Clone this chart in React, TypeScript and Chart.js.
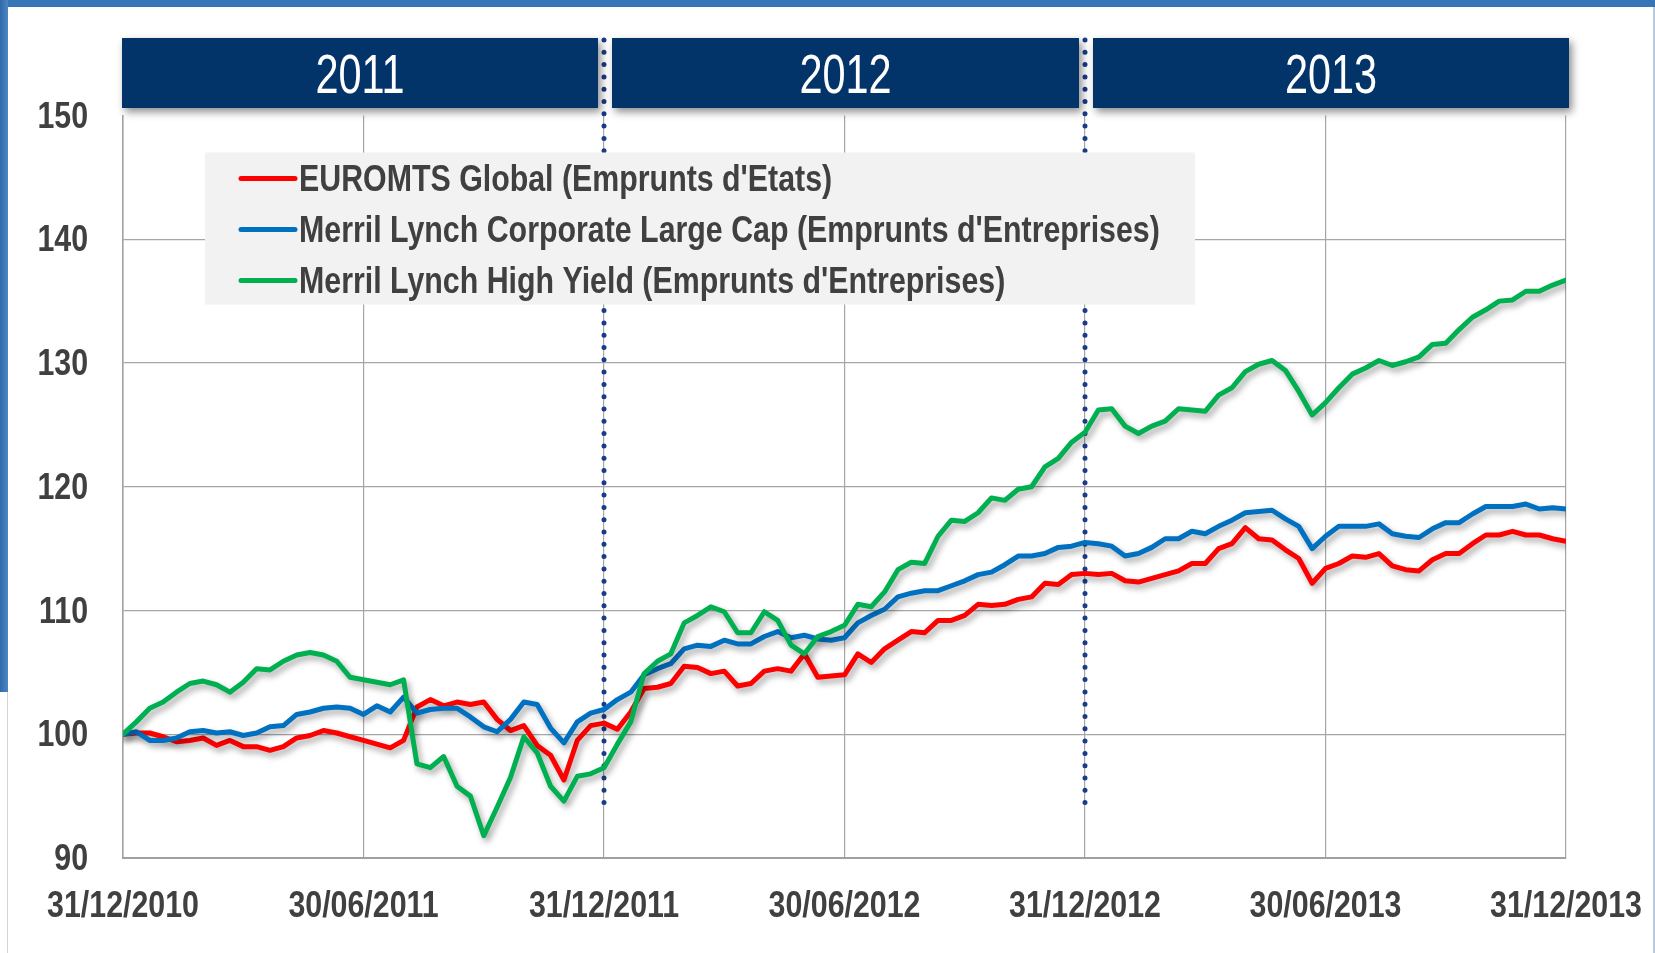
import React, { useEffect, useRef } from "react";
import { Chart, registerables } from "chart.js";

Chart.register(...registerables);

// ---------- DATA ----------
const tickLabels = ["31/12/2010", "30/06/2011", "31/12/2011", "30/06/2012", "31/12/2012", "30/06/2013", "31/12/2013"];
const yearLabels = ["2011", "2012", "2013"];
const seriesNames = [
  "EUROMTS Global (Emprunts d'Etats)",
  "Merril Lynch Corporate Large Cap (Emprunts d'Entreprises)",
  "Merril Lynch High Yield (Emprunts d'Entreprises)",
];
const seriesColors = ["#ff0000", "#0070c0", "#00b050"];
const stepsPerHalfYear = 18; // observations every ~10 days

const euromts = [
  100.0, 100.1, 100.1, 99.8, 99.4, 99.5, 99.7, 99.1, 99.5, 99.0, 99.0, 98.7, 99.0, 99.7, 99.9, 100.3, 100.1, 99.8,
  99.5, 99.2, 98.9, 99.5, 102.2, 102.8, 102.3, 102.6, 102.4, 102.6, 101.2, 100.3, 100.7, 99.1, 98.3, 96.3, 99.5, 100.7,
  100.9, 100.4, 101.8, 103.7, 103.8, 104.1, 105.5, 105.4, 104.9, 105.1, 103.9, 104.1, 105.1, 105.3, 105.1, 106.5, 104.6, 104.7,
  104.8, 106.5, 105.8, 106.9, 107.6, 108.3, 108.2, 109.2, 109.2, 109.6, 110.5, 110.4, 110.5, 110.9, 111.1, 112.2, 112.1, 112.9,
  113.0, 112.9, 113.0, 112.4, 112.3, 112.6, 112.9, 113.2, 113.8, 113.8, 115.0, 115.4, 116.7, 115.8, 115.7, 114.9, 114.2, 112.2,
  113.4, 113.8, 114.4, 114.3, 114.6, 113.6, 113.3, 113.2, 114.1, 114.6, 114.6, 115.4, 116.1, 116.1, 116.4, 116.1, 116.1, 115.8,
  115.6,
];
const corporate = [
  100.0, 100.2, 99.5, 99.5, 99.7, 100.2, 100.3, 100.1, 100.2, 99.9, 100.1, 100.6, 100.7, 101.6, 101.8, 102.1, 102.2, 102.1,
  101.6, 102.3, 101.8, 103.0, 101.7, 102.0, 102.1, 102.1, 101.4, 100.6, 100.2, 101.2, 102.6, 102.4, 100.5, 99.3, 101.0, 101.7,
  102.0, 102.8, 103.4, 104.8, 105.3, 105.7, 106.9, 107.2, 107.1, 107.6, 107.3, 107.3, 107.9, 108.3, 107.8, 108.0, 107.7, 107.6,
  107.8, 109.0, 109.6, 110.1, 111.1, 111.4, 111.6, 111.6, 112.0, 112.4, 112.9, 113.1, 113.7, 114.4, 114.4, 114.6, 115.1, 115.2,
  115.5, 115.4, 115.2, 114.4, 114.6, 115.1, 115.8, 115.8, 116.4, 116.2, 116.8, 117.3, 117.9, 118.0, 118.1, 117.4, 116.8, 115.0,
  116.0, 116.8, 116.8, 116.8, 117.0, 116.2, 116.0, 115.9, 116.6, 117.1, 117.1, 117.8, 118.4, 118.4, 118.4, 118.6, 118.2, 118.3,
  118.2,
];
const highYield = [
  100.0, 101.0, 102.1, 102.6, 103.4, 104.1, 104.3, 104.0, 103.4, 104.2, 105.3, 105.2, 105.9, 106.4, 106.6, 106.4, 105.9, 104.6,
  104.4, 104.2, 104.0, 104.4, 97.6, 97.3, 98.2, 95.8, 95.0, 91.8, 94.1, 96.5, 99.8, 98.5, 95.8, 94.6, 96.6, 96.8,
  97.3, 99.2, 101.0, 104.9, 105.9, 106.5, 109.0, 109.6, 110.3, 109.9, 108.2, 108.2, 109.9, 109.2, 107.2, 106.5, 107.9, 108.3,
  108.8, 110.5, 110.3, 111.5, 113.3, 113.9, 113.8, 116.0, 117.3, 117.2, 117.9, 119.1, 118.9, 119.8, 120.0, 121.6, 122.3, 123.6,
  124.4, 126.2, 126.3, 124.9, 124.3, 124.9, 125.3, 126.3, 126.2, 126.1, 127.4, 128.0, 129.3, 129.9, 130.2, 129.4, 127.7, 125.8,
  126.8, 128.0, 129.1, 129.6, 130.2, 129.8, 130.1, 130.5, 131.5, 131.6, 132.7, 133.7, 134.3, 135.0, 135.1, 135.8, 135.8, 136.3,
  136.7,
];

const FONT = "'Liberation Sans', Arial, sans-serif";
const TEXT = "#404040";
const NARROW = 0.82;

function narrowText(ctx: any, text: string, x: number, y: number, font: string, align: string, sx: number) {
  ctx.save();
  ctx.font = font;
  ctx.textAlign = align;
  ctx.textBaseline = "middle";
  ctx.translate(x, y);
  ctx.scale(sx, 1);
  ctx.fillText(text, 0, 0);
  ctx.restore();
}

const decorPlugin = {
  id: "decor",
  beforeDatasetsDraw(chart: any) {
    const { ctx, chartArea, scales } = chart;
    const xs = scales.x;
    ctx.save();

    // dotted year separators
    ctx.strokeStyle = "#1b3a8a";
    ctx.lineWidth = 5;
    ctx.lineCap = "round";
    ctx.setLineDash([0, 12.3]);
    for (let k = 1; k < yearLabels.length; k++) {
      const px = Math.round(xs.getPixelForValue(k * 2 * stepsPerHalfYear));
      ctx.beginPath();
      ctx.moveTo(px, 40);
      ctx.lineTo(px, 812);
      ctx.stroke();
    }
    ctx.setLineDash([]);

    // legend box
    const lx = chartArea.left + 82;
    const ly = chartArea.top + 37;
    ctx.fillStyle = "#f2f2f2";
    ctx.fillRect(lx, ly, 990, 152);
    chart.data.datasets.forEach((ds: any, i: number) => {
      const cy = ly + 26 + i * 51;
      ctx.strokeStyle = ds.borderColor;
      ctx.lineWidth = 5;
      ctx.lineCap = "round";
      ctx.beginPath();
      ctx.moveTo(lx + 36, cy);
      ctx.lineTo(lx + 90, cy);
      ctx.stroke();
      ctx.fillStyle = TEXT;
      narrowText(ctx, ds.label, lx + 94, cy + 2, `bold 37px ${FONT}`, "left", NARROW);
    });

    // year header boxes
    for (let k = 0; k < yearLabels.length; k++) {
      const a = xs.getPixelForValue(k * 2 * stepsPerHalfYear);
      const b = xs.getPixelForValue((k + 1) * 2 * stepsPerHalfYear);
      const left = k === 0 ? a - 1 : a + 8;
      const right = k === yearLabels.length - 1 ? b + 3 : b - 6;
      ctx.save();
      ctx.shadowColor = "rgba(0,0,0,0.45)";
      ctx.shadowBlur = 8;
      ctx.shadowOffsetX = 3;
      ctx.shadowOffsetY = 4;
      ctx.fillStyle = "#02346a";
      ctx.fillRect(left, 38, right - left, 70);
      ctx.restore();
      ctx.fillStyle = "#ffffff";
      narrowText(ctx, yearLabels[k], (left + right) / 2, 78, `56px ${FONT}`, "center", 0.74);
    }
    ctx.restore();
  },
  afterDraw(chart: any) {
    // axis tick labels, taken from the scales' own ticks
    const { ctx, chartArea, scales } = chart;
    ctx.save();
    ctx.fillStyle = TEXT;
    const font = `bold 37px ${FONT}`;
    scales.y.ticks.forEach((t: any) => {
      narrowText(ctx, String(t.value), chartArea.left - 35, scales.y.getPixelForValue(t.value) + 2, font, "right", NARROW);
    });
    scales.x.ticks.forEach((t: any) => {
      const lbl = tickLabels[Math.round(t.value / stepsPerHalfYear)];
      if (lbl) narrowText(ctx, lbl, scales.x.getPixelForValue(t.value), chartArea.bottom + 49, font, "center", NARROW);
    });
    ctx.restore();
  },
  beforeDatasetDraw(chart: any) {
    const ctx = chart.ctx;
    ctx.save();
    ctx.shadowColor = "rgba(0,0,0,0.35)";
    ctx.shadowBlur = 6;
    ctx.shadowOffsetX = 3;
    ctx.shadowOffsetY = 4;
  },
  afterDatasetDraw(chart: any) {
    chart.ctx.restore();
  },
};

export default function App() {
  const ref = useRef<HTMLCanvasElement | null>(null);

  useEffect(() => {
    if (!ref.current) return;
    const series = [euromts, corporate, highYield];
    const chart = new Chart(ref.current, {
      type: "line",
      data: {
        datasets: series.map((vals, i) => ({
          label: seriesNames[i],
          data: vals.map((y, idx) => ({ x: idx, y })),
          borderColor: seriesColors[i],
          backgroundColor: seriesColors[i],
          borderWidth: 5,
          pointRadius: 0,
          tension: 0,
          borderJoinStyle: "round",
          borderCapStyle: "round",
          order: 3 - i,
        })),
      },
      options: {
        responsive: false,
        devicePixelRatio: 1,
        animation: false,
        layout: { padding: { left: 0, right: 89, top: 115.5, bottom: 0 } },
        plugins: { legend: { display: false }, tooltip: { enabled: false } },
        scales: {
          x: {
            type: "linear",
            min: 0,
            max: stepsPerHalfYear * (tickLabels.length - 1),
            afterFit: (s: any) => {
              s.height = 95;
            },
            ticks: { display: false, stepSize: stepsPerHalfYear, autoSkip: false },
            grid: { color: "#a6a6a6", lineWidth: 1.2, drawTicks: false },
            border: { color: "#a0a0a0", width: 2 },
          },
          y: {
            min: 90,
            max: 150,
            afterFit: (s: any) => {
              s.width = 123;
            },
            ticks: { display: false, stepSize: 10 },
            grid: {
              color: (c: any) => (c.tick && c.tick.value === 150 ? "rgba(0,0,0,0)" : "#a6a6a6"),
              lineWidth: 1.2,
              drawTicks: false,
            },
            border: { color: "#a0a0a0", width: 1.5 },
          },
        },
      },
      plugins: [decorPlugin],
    } as any);
    return () => chart.destroy();
  }, []);

  return (
    <div style={{ position: "fixed", left: 0, top: 0, width: 1655, height: 953, background: "#ffffff", overflow: "hidden" }}>
      <canvas ref={ref} width={1655} height={953} style={{ position: "absolute", left: 0, top: 0, width: 1655, height: 953 }} />
      <div style={{ position: "absolute", left: 0, top: 0, width: 1655, height: 7, background: "#3776b6" }} />
      <div style={{ position: "absolute", left: 0, top: 0, width: 8, height: 692, background: "linear-gradient(to right, #2f69a9, #4a86c4)" }} />
      <div style={{ position: "absolute", left: 7, top: 692, width: 1, height: 261, background: "#d4d4d4" }} />
      <div style={{ position: "absolute", left: 1653, top: 7, width: 2, height: 946, background: "#b9c9dd" }} />
    </div>
  );
}
